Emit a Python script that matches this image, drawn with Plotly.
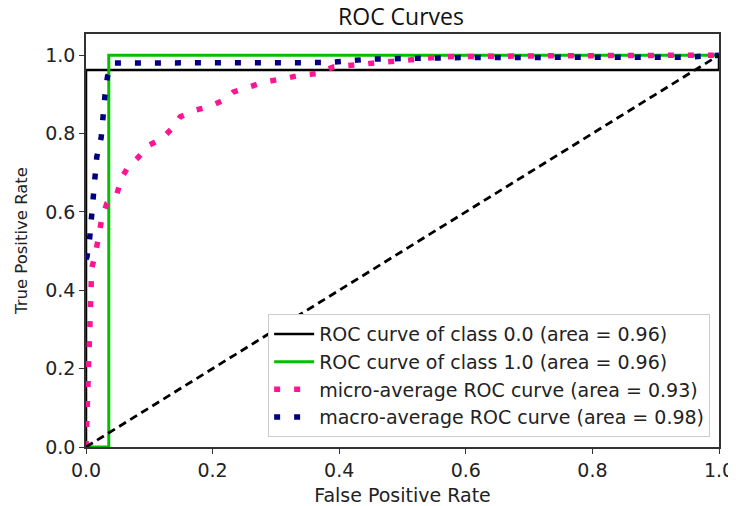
import plotly.graph_objects as go

# ---- data ----
class0_fpr = [0.0, 0.0, 1.0, 1.0]
class0_tpr = [0.0, 0.962, 0.962, 1.0]

class1_fpr = [0.0, 0.036, 0.036, 1.0]
class1_tpr = [0.0, 0.0, 1.0, 1.0]

micro_fpr = [0.0, 0.002, 0.004, 0.007, 0.009, 0.015, 0.02, 0.025, 0.033, 0.049, 0.057,
             0.067, 0.083, 0.099, 0.12, 0.136, 0.149, 0.173, 0.194, 0.217, 0.233, 0.262,
             0.283, 0.312, 0.339, 0.365, 0.391, 0.418, 0.444, 0.475, 0.507, 0.533, 0.56,
             0.7, 1.0]
micro_tpr = [0.0, 0.1, 0.3, 0.41, 0.456, 0.494, 0.536, 0.583, 0.622, 0.647, 0.69,
             0.715, 0.74, 0.77, 0.787, 0.813, 0.843, 0.86, 0.868, 0.885, 0.906, 0.919,
             0.932, 0.94, 0.949, 0.953, 0.97, 0.974, 0.979, 0.983, 0.987, 0.99, 0.996,
             0.998, 1.0]

macro_fpr = [0.0, 0.0016, 0.006, 0.009, 0.011, 0.015, 0.017, 0.024, 0.026, 0.030, 0.034,
             0.044, 0.38, 0.45, 0.6, 0.95, 1.0]
macro_tpr = [0.48, 0.485, 0.536, 0.592, 0.643, 0.694, 0.74, 0.79, 0.843, 0.898, 0.946,
             0.98, 0.981, 0.99, 0.994, 0.995, 1.0]

diag = [0.0, 1.0]

tick_vals = [0.0, 0.2, 0.4, 0.6, 0.8, 1.0]
tick_text = ["0.0", "0.2", "0.4", "0.6", "0.8", "1.0"]

names = [
    "ROC curve of class 0.0 (area = 0.96)",
    "ROC curve of class 1.0 (area = 0.96)",
    "micro-average ROC curve (area = 0.93)",
    "macro-average ROC curve (area = 0.98)",
]

fig = go.Figure()
fig.add_trace(go.Scatter(x=class0_fpr, y=class0_tpr, mode="lines", name=names[0],
                         line=dict(color="black", width=2.5)))
fig.add_trace(go.Scatter(x=class1_fpr, y=class1_tpr, mode="lines", name=names[1],
                         line=dict(color="#00C000", width=3)))
fig.add_trace(go.Scatter(x=micro_fpr, y=micro_tpr, mode="lines", name=names[2],
                         line=dict(color="#FF1493", width=5.5, dash="6px,14px")))
fig.add_trace(go.Scatter(x=macro_fpr, y=macro_tpr, mode="lines", name=names[3],
                         line=dict(color="#000080", width=5.5, dash="6px,14px")))
fig.add_trace(go.Scatter(x=diag, y=diag, mode="lines", showlegend=False,
                         line=dict(color="black", width=2.8, dash="8px,5px")))

axis_common = dict(
    showgrid=False, zeroline=False, showline=True, linecolor="#333333", linewidth=1.5,
    mirror=True, ticks="outside", ticklen=5, tickcolor="#333333", automargin=False,
    tickvals=tick_vals, ticktext=tick_text,
    tickfont=dict(family="DejaVu Sans", size=19, color="#222222"),
)

# The page body adds an 8px offset, so the figure is 8px smaller on each axis.
W, H = 728, 498
fig.update_layout(
    width=W, height=H,
    margin=dict(l=78, r=17, t=26, b=59),
    plot_bgcolor="white", paper_bgcolor="white",
    title=dict(text="ROC Curves", x=393 / W, xanchor="center",
               y=1 - 9 / H, yanchor="middle", automargin=False,
               font=dict(family="Open Sans", size=23, color="#111111")),
    xaxis=dict(range=[0, 1],
               title=dict(text="False Positive Rate", standoff=11,
                          font=dict(family="DejaVu Sans", size=19, color="#222222")),
               **axis_common),
    yaxis=dict(range=[0, 1.054],
               title=dict(text="True Positive Rate", standoff=13,
                          font=dict(family="DejaVu Sans", size=16.5, color="#222222")),
               **axis_common),
    legend=dict(x=0.986, y=0.024, xanchor="right", yanchor="bottom",
                bgcolor="white", bordercolor="#cccccc", borderwidth=1,
                font=dict(family="DejaVu Sans", size=19, color="#222222"),
                itemwidth=40),
)

fig.write_html("out.html")
